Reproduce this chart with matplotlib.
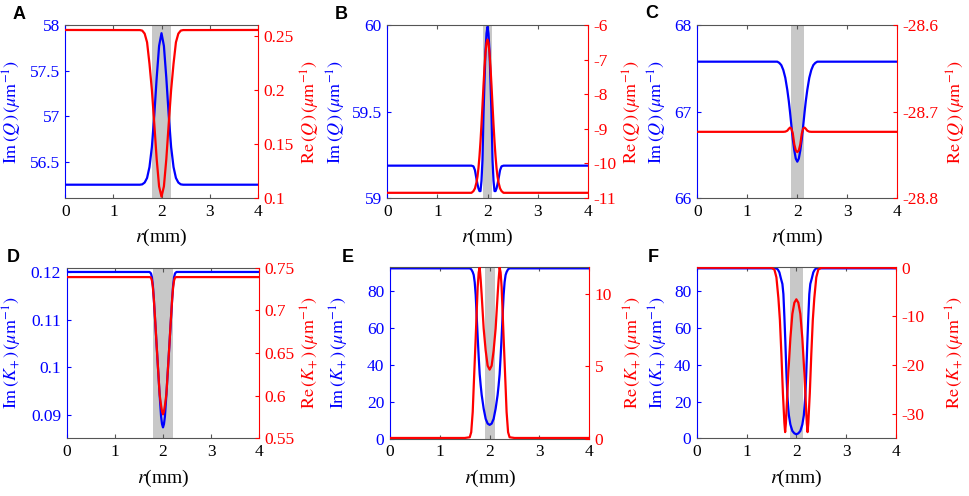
import numpy as np
import matplotlib
matplotlib.use('Agg')
import matplotlib.pyplot as plt
from matplotlib.ticker import FixedLocator, FormatStrFormatter

plt.rcParams['font.family'] = ['Liberation Serif', 'DejaVu Serif']
plt.rcParams['mathtext.fontset'] = 'stix'
plt.rcParams['axes.unicode_minus'] = False

# ---- data ----
# panel A
rA = [0, 1.55, 1.6, 1.65, 1.7, 1.75, 1.8, 1.85, 1.9, 1.95, 2.0, 2.05, 2.1, 2.15, 2.2, 2.25, 2.3, 2.35, 2.4, 2.45, 4]
imA = [56.246, 56.246, 56.25, 56.27, 56.32, 56.44, 56.66, 57.01, 57.42, 57.77, 57.91,
       57.77, 57.42, 57.01, 56.66, 56.44, 56.32, 56.27, 56.25, 56.246, 56.246]
reA = [0.2554, 0.2553, 0.2548, 0.2520, 0.2440, 0.2241, 0.1999, 0.1686, 0.1359, 0.1107, 0.1012,
       0.1107, 0.1359, 0.1686, 0.1999, 0.2241, 0.2440, 0.2520, 0.2548, 0.2553, 0.2554]

# panel B
rB = [0, 1.65, 1.68, 1.72, 1.75, 1.78, 1.80, 1.82, 1.84, 1.86, 1.88, 1.90, 1.92, 1.94, 1.96, 1.98, 2.00,
      2.02, 2.04, 2.06, 2.08, 2.10, 2.12, 2.14, 2.16, 2.18, 2.20, 2.22, 2.25, 2.28, 2.32, 2.35, 4]
imB = [59.187, 59.187, 59.187, 59.183, 59.16, 59.11, 59.08, 59.055, 59.04, 59.04, 59.10, 59.22, 59.48,
       59.67, 59.85, 59.95, 59.99, 59.95, 59.85, 59.67, 59.48, 59.22, 59.10, 59.04, 59.04, 59.055,
       59.08, 59.11, 59.16, 59.183, 59.187, 59.187, 59.187]
reB = [-10.85, -10.85, -10.85, -10.80, -10.72, -10.55, -10.38, -10.13, -9.79, -9.37, -8.87, -8.32, -7.75,
       -7.23, -6.80, -6.52, -6.42, -6.52, -6.80, -7.23, -7.75, -8.32, -8.87, -9.37, -9.79, -10.13,
       -10.38, -10.55, -10.72, -10.80, -10.85, -10.85, -10.85]

# panel C
rC = [0, 1.60, 1.64, 1.68, 1.72, 1.76, 1.80, 1.83, 1.855, 1.88, 1.91, 1.94, 1.97, 2.00,
      2.03, 2.06, 2.09, 2.12, 2.145, 2.17, 2.20, 2.24, 2.28, 2.32, 2.36, 2.40, 4]
imC = [67.576, 67.576, 67.562, 67.536, 67.48, 67.39, 67.25, 67.12, 66.99, 66.848, 66.68, 66.55, 66.455,
       66.42, 66.455, 66.55, 66.68, 66.848, 66.99, 67.12, 67.25, 67.39, 67.48, 67.536, 67.562, 67.576, 67.576]
reC = [-28.7235, -28.7235, -28.7235, -28.7235, -28.7235, -28.7233, -28.7222, -28.7200, -28.7186,
       -28.7195, -28.7255, -28.738, -28.745, -28.747, -28.745, -28.738, -28.7255, -28.7195, -28.7186,
       -28.7200, -28.7222, -28.7233, -28.7235, -28.7235, -28.7235, -28.7235, -28.7235]

# panel D
rD = [0, 1.65, 1.72, 1.75, 1.77, 1.79, 1.81, 1.84, 1.87, 1.90, 1.93, 1.96, 1.98, 2.00,
      2.02, 2.04, 2.07, 2.10, 2.13, 2.16, 2.19, 2.21, 2.23, 2.25, 2.28, 2.35, 4]
imD = [0.1201, 0.1201, 0.1201, 0.1198, 0.1190, 0.1172, 0.1143, 0.1093, 0.1042, 0.0992, 0.0942, 0.0896,
       0.0880, 0.0873, 0.0880, 0.0896, 0.0942, 0.0992, 0.1042, 0.1093, 0.1143, 0.1172, 0.1190, 0.1198,
       0.1201, 0.1201, 0.1201]
reD = [0.739, 0.739, 0.739, 0.7385, 0.735, 0.727, 0.713, 0.686, 0.657, 0.629, 0.6015, 0.5885, 0.5815,
       0.578, 0.5815, 0.5885, 0.6015, 0.629, 0.657, 0.686, 0.713, 0.727, 0.735, 0.7385, 0.739, 0.739, 0.739]

# panel E
rE_im = [0, 1.55, 1.60, 1.63, 1.66, 1.68, 1.70, 1.72, 1.74, 1.76, 1.78, 1.80, 1.82, 1.84, 1.88, 1.92, 1.96,
         2.00, 2.04, 2.08, 2.12, 2.16, 2.18, 2.20, 2.22, 2.24, 2.26, 2.28, 2.30, 2.32, 2.34, 2.37, 2.40, 2.45, 4]
imE = [92.5, 92.5, 92.5, 92.0, 90.5, 88.9, 85.0, 78.0, 66.5, 55.0, 44.5, 35.0, 29.0, 23.8, 16.3, 10.8, 8.2,
       7.5, 8.2, 10.8, 16.3, 23.8, 29.0, 35.0, 44.5, 55.0, 66.5, 78.0, 85.0, 88.9, 90.5, 92.0, 92.5, 92.5, 92.5]
rE_re = [0, 1.50, 1.60, 1.63, 1.66, 1.68, 1.70, 1.72, 1.74, 1.76, 1.78, 1.80, 1.82, 1.84, 1.88, 1.92, 1.96,
         2.00, 2.04, 2.08, 2.12, 2.16, 2.18, 2.20, 2.22, 2.24, 2.26, 2.28, 2.30, 2.32, 2.34, 2.37, 2.40, 2.50, 4]
reE = [0.05, 0.05, 0.1, 0.45, 1.85, 3.6, 5.3, 7.0, 8.78, 10.5, 11.5, 11.85, 11.0, 9.94, 7.62, 6.1, 5.05,
       4.78, 5.05, 6.1, 7.62, 9.94, 11.0, 11.85, 11.5, 10.5, 8.78, 7.0, 5.3, 3.6, 1.85, 0.45, 0.1, 0.05, 0.05]

# panel F
rF_im = [0, 1.55, 1.60, 1.63, 1.66, 1.69, 1.72, 1.74, 1.76, 1.78, 1.80, 1.82, 1.85, 1.88, 1.92, 1.96, 2.00,
         2.04, 2.08, 2.12, 2.15, 2.18, 2.20, 2.22, 2.24, 2.26, 2.28, 2.31, 2.34, 2.37, 2.40, 2.45, 4]
imF = [92.5, 92.5, 92.5, 91.8, 90.3, 87.0, 84.0, 78.5, 66.0, 52.0, 36.0, 23.0, 12.5, 7.5, 4.0, 2.7, 2.2,
       2.7, 4.0, 7.5, 12.5, 23.0, 36.0, 52.0, 66.0, 78.5, 84.0, 87.0, 90.3, 91.8, 92.5, 92.5, 92.5]
rF_re = [0, 1.45, 1.50, 1.56, 1.60, 1.64, 1.67, 1.70, 1.73, 1.76, 1.775, 1.79, 1.81, 1.84, 1.88, 1.92, 1.96,
         2.00, 2.04, 2.08, 2.12, 2.16, 2.19, 2.21, 2.225, 2.24, 2.27, 2.30, 2.33, 2.36, 2.40, 2.44, 2.50, 2.55, 4]
reF = [0, 0, 0, -0.4, -2.0, -6.3, -10.8, -17.8, -25.8, -31.9, -33.8, -32.0, -27.8, -21.5, -14.5, -9.5, -7.2,
       -6.5, -7.2, -9.5, -14.5, -21.5, -27.8, -32.0, -33.8, -31.9, -25.8, -17.8, -10.8, -6.3, -2.0, -0.4, 0, 0, 0]

xticks = [0, 1, 2, 3, 4]

labQ_im = r'$\mathrm{Im}\,(Q\,)\,(\mu\mathrm{m}^{-1})$'
labQ_re = r'$\mathrm{Re}\,(Q\,)\,(\mu\mathrm{m}^{-1})$'
labK_im = r'$\mathrm{Im}\,(K_{+}\,)\,(\mu\mathrm{m}^{-1})$'
labK_re = r'$\mathrm{Re}\,(K_{+}\,)\,(\mu\mathrm{m}^{-1})$'

W, H = 969, 496
fig = plt.figure(figsize=(W / 100, H / 100), dpi=100)

frame = '#555555'
band_col = '#c8c8c8'


def panel(px, letter, lpos, r_im, im, r_re, re, band, ylim1, yt1, ylim2, yt2, lab1, lab2, lx1, lx2):
    left, top, right, bottom = px
    ax = fig.add_axes([left / W, 1 - bottom / H, (right - left) / W, (bottom - top) / H])
    ax2 = ax.twinx()
    ax.axvspan(band[0], band[1], color=band_col, lw=0, zorder=0)
    ax.plot(r_im, im, color='#0000ff', lw=1.6, zorder=2)
    ax2.plot(r_re, re, color='#ff0000', lw=1.6, zorder=2)
    ax.set_xlim(0, 4)
    ax.set_ylim(*ylim1)
    ax2.set_ylim(*ylim2)
    ax.xaxis.set_major_locator(FixedLocator(xticks))
    ax.yaxis.set_major_locator(FixedLocator(yt1))
    ax2.yaxis.set_major_locator(FixedLocator(yt2))
    ax.yaxis.set_major_formatter(FormatStrFormatter('%g'))
    ax2.yaxis.set_major_formatter(FormatStrFormatter('%g'))
    ax.xaxis.set_major_formatter(FormatStrFormatter('%g'))

    for s in ['top', 'bottom']:
        ax.spines[s].set_color(frame)
        ax.spines[s].set_linewidth(0.8)
        ax2.spines[s].set_visible(False)
    ax.spines['right'].set_visible(False)
    ax2.spines['left'].set_visible(False)
    ax.spines['left'].set_color('#0000ff')
    ax2.spines['right'].set_color('#ff0000')
    ax.spines['left'].set_linewidth(0.8)
    ax2.spines['right'].set_linewidth(0.8)

    ax.tick_params(axis='x', direction='in', top=True, bottom=True, length=3, width=0.8,
                   color=frame, labelsize=12.5, pad=4, labelcolor='black')
    ax.tick_params(axis='y', direction='in', left=True, right=False, length=3, width=0.8,
                   color='#0000ff', labelcolor='#0000ff', labelsize=12.5, pad=4)
    ax2.tick_params(axis='y', direction='in', left=False, right=True, length=3, width=0.8,
                    color='#ff0000', labelcolor='#ff0000', labelsize=12.5, pad=4)

    ax.set_xlabel(r'$r$(mm)', fontsize=14, labelpad=5.5)
    ax.set_ylabel(lab1, color='#0000ff', fontsize=13)
    ax2.set_ylabel(lab2, color='#ff0000', fontsize=13)
    ax.yaxis.set_label_coords(lx1, 0.5)
    ax2.yaxis.set_label_coords(lx2, 0.5)

    fig.text(lpos[0] / W, 1 - lpos[1] / H, letter, fontsize=13, fontweight='bold',
             family='Liberation Sans', ha='left', va='baseline')
    return ax, ax2


panel((65.3, 25, 257.7, 198), 'A', (13, 19), rA, imA, rA, reA, (1.8, 2.2),
      (56.1, 58.0), [56.5, 57, 57.5, 58], (0.1, 0.26), [0.1, 0.15, 0.2, 0.25],
      labQ_im, labQ_re, -0.217, 1.2147)
panel((387.3, 25, 587.7, 198), 'B', (335, 19), rB, imB, rB, reB, (1.91, 2.09),
      (59.0, 60.0), [59, 59.5, 60], (-11, -6), [-11, -10, -9, -8, -7, -6],
      labQ_im, labQ_re, -0.196, 1.1662)
panel((697.3, 25, 897.3, 198), 'C', (645, 18), rC, imC, rC, reC, (1.87, 2.13),
      (66, 68), [66, 67, 68], (-28.8, -28.6), [-28.8, -28.7, -28.6],
      labQ_im, labQ_re, -0.1415, 1.236)
panel((66.7, 267.7, 259.3, 438.3), 'D', (7, 262), rD, imD, rD, reD, (1.8, 2.2),
      (0.085, 0.121), [0.09, 0.1, 0.11, 0.12], (0.55, 0.75), [0.55, 0.6, 0.65, 0.7, 0.75],
      labK_im, labK_re, -0.224, 1.206)
panel((390, 266.7, 589.3, 438.7), 'E', (342, 262), rE_im, imE, rE_re, reE, (1.91, 2.1),
      (0, 93.4), [0, 20, 40, 60, 80], (0, 11.9), [0, 5, 10],
      labK_im, labK_re, -0.1957, 1.164)
panel((696.7, 266.7, 896, 438.3), 'F', (648, 262), rF_im, imF, rF_re, reF, (1.87, 2.13),
      (0, 93.4), [0, 20, 40, 60, 80], (-35.07, 0.2), [-30, -20, -10, 0],
      labK_im, labK_re, -0.134, 1.238)

fig.savefig('out.png', dpi=100)
